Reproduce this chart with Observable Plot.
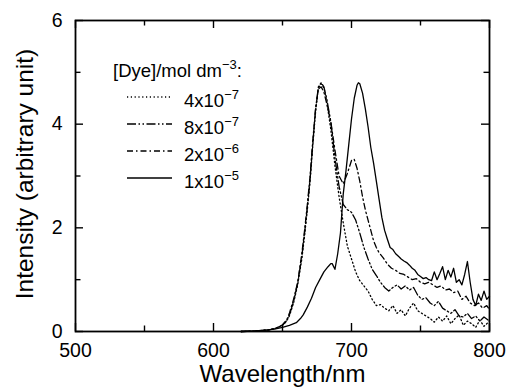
<!DOCTYPE html>
<html><head><meta charset="utf-8">
<script src="https://cdn.jsdelivr.net/npm/d3@7"></script>
<script src="https://cdn.jsdelivr.net/npm/@observablehq/plot@0.6"></script>
<style>
body{margin:0;background:#fff;}
#wrap{position:relative;width:510px;height:387px;overflow:hidden;}
#wrap svg{position:absolute;left:0;top:0;}
</style></head><body><div id="wrap"></div>
<script>
// ---- data ----
const seriesBase = ["4x10", "8x10", "2x10", "1x10"];
const seriesExp = ["\u22127", "\u22127", "\u22126", "\u22125"];
const legendTitle = "[Dye]/mol dm";
const legendTitleExp = "\u22123";
const xTitle = "Wavelength/nm";
const yTitle = "Intensity (arbitrary unit)";
const xTicks = [500, 600, 700, 800];
const xMinor = [550, 650, 750];
const yTicks = [0, 2, 4, 6];
const yMinor = [1, 3, 5];

const wlA = [620,630,640,645,650,653,655,658,661,664,666,668,670,672,674,676,678,680,682,685,688,691,694,697,700,703,706,709,712,715,718,721,724,727,730,733,736,739,742,745,748,751,754,757,760,763,766,769,772,775,778,781,784,787,790,793,796,800];
const intA = [0,0.01,0.03,0.06,0.12,0.2,0.3,0.55,0.9,1.4,1.85,2.35,2.9,3.6,4.25,4.7,4.78,4.7,4.45,3.9,3.2,2.6,2.1,1.65,1.4,1.15,0.98,0.88,0.78,0.62,0.5,0.52,0.45,0.4,0.5,0.35,0.42,0.3,0.45,0.55,0.4,0.35,0.3,0.25,0.18,0.28,0.2,0.3,0.15,0.25,0.32,0.12,0.2,0.15,0.08,0.22,0.1,0.2];

const wlB = [620,630,640,645,650,653,655,658,661,664,666,668,670,672,674,676,678,680,682,685,688,691,694,697,700,703,706,709,712,715,718,721,724,727,730,733,736,739,742,745,748,751,754,757,760,763,766,769,772,775,778,781,784,787,790,793,796,800];
const intB = [0,0.01,0.03,0.06,0.12,0.21,0.32,0.58,0.93,1.45,1.9,2.4,2.95,3.65,4.3,4.72,4.8,4.72,4.5,4.05,3.35,2.8,2.45,2.35,2.3,2.15,1.9,1.62,1.4,1.2,1.08,0.95,0.85,0.78,0.85,0.9,0.82,0.88,0.8,0.85,0.7,0.62,0.65,0.55,0.5,0.58,0.45,0.4,0.35,0.42,0.3,0.28,0.35,0.25,0.3,0.2,0.28,0.2];

const wlC = [620,630,640,645,650,653,655,658,661,664,666,668,670,672,674,676,678,680,682,685,688,691,694,697,700,702,704,706,708,710,712,714,716,718,720,723,726,729,732,735,738,741,744,747,750,753,756,759,762,765,768,771,774,777,780,783,786,789,792,795,798,800];
const intC = [0,0.01,0.03,0.06,0.13,0.22,0.35,0.62,0.95,1.5,1.95,2.45,3.0,3.7,4.3,4.68,4.72,4.62,4.4,4.05,3.5,3.0,2.85,3.05,3.3,3.32,3.15,2.9,2.6,2.35,2.15,1.95,1.75,1.62,1.52,1.42,1.3,1.22,1.18,1.12,1.1,1.05,1.0,1.02,0.95,0.92,0.95,0.9,0.85,0.88,0.8,0.82,0.75,0.78,0.62,0.68,0.55,0.5,0.55,0.45,0.5,0.42];

const wlD = [620,630,640,645,650,655,660,663,665,668,671,674,677,680,683,685,686,688,690,692,694,696,698,700,702,704,705,706,708,710,712,714,716,718,720,722,724,726,728,730,732,734,736,738,740,742,744,746,748,750,752,754,756,758,760,762,764,766,768,770,772,774,776,778,780,782,784,786,788,790,792,794,796,798,800];
const intD = [0,0.01,0.03,0.05,0.08,0.12,0.17,0.25,0.32,0.47,0.64,0.85,1.0,1.15,1.25,1.31,1.31,1.2,1.5,1.9,2.65,3.1,3.6,4.1,4.5,4.75,4.8,4.78,4.6,4.3,3.95,3.55,3.25,2.9,2.55,2.2,1.95,1.78,1.62,1.58,1.5,1.45,1.4,1.36,1.33,1.28,1.22,1.18,1.1,1.06,1.02,1.04,1.0,0.98,1.15,1.0,1.12,1.25,1.0,1.18,1.05,1.22,0.95,1.0,0.9,1.1,1.35,0.95,0.62,0.5,0.72,0.6,0.78,0.62,0.68];

// ---- styles (separate from data) ----
const dashes = ["1.2,2.6", "9,2.5,1.5,2.5,1.5,2.5", "6,3,1.5,3", "none"];
const FONT = "'Liberation Sans', Arial, Helvetica, sans-serif";
const W = 510, H = 387, ML = 75, MR = 21, MT = 20, MB = 56;
const FW = W - ML - MR, FH = H - MT - MB;
const MAJ = 8, MIN = 5.5;

const series = [[wlA,intA],[wlB,intB],[wlC,intC],[wlD,intD]];
const rows = series.map(([w,v]) => w.map((x,i) => ({w:x, v:v[i]})));

const plot = Plot.plot({
  width: W, height: H,
  marginLeft: ML, marginRight: MR, marginTop: MT, marginBottom: MB,
  x: {domain: [500, 800]},
  y: {domain: [0, 6]},
  style: {fontFamily: FONT, background: "white", color: "black", overflow: "visible"},
  marks: [
    ...rows.map((r, i) => Plot.line(r, {x: "w", y: "v", stroke: "black", strokeWidth: 1.3, strokeDasharray: dashes[i]})),
    // inward ticks on all four sides
    Plot.tickX(xTicks, {x: d => d, insetTop: FH - MAJ, strokeWidth: 1.4}),
    Plot.tickX(xMinor, {x: d => d, insetTop: FH - MIN, strokeWidth: 1.4}),
    Plot.tickX(xTicks, {x: d => d, insetBottom: FH - MAJ, strokeWidth: 1.4}),
    Plot.tickX(xMinor, {x: d => d, insetBottom: FH - MIN, strokeWidth: 1.4}),
    Plot.tickY(yTicks, {y: d => d, insetRight: FW - MAJ, strokeWidth: 1.4}),
    Plot.tickY(yMinor, {y: d => d, insetRight: FW - MIN, strokeWidth: 1.4}),
    Plot.tickY(yTicks, {y: d => d, insetLeft: FW - MAJ, strokeWidth: 1.4}),
    Plot.tickY(yMinor, {y: d => d, insetLeft: FW - MIN, strokeWidth: 1.4}),
    Plot.axisX({anchor: "bottom", ticks: xTicks, tickSize: 0, tickPadding: 12, fontSize: 19.5, tickFormat: d => String(d), label: null}),
    Plot.axisY({anchor: "left", ticks: yTicks, tickSize: 0, tickPadding: 13, fontSize: 19.5, tickFormat: d => String(d), label: null}),
    Plot.text([xTitle], {text: d => d, frameAnchor: "bottom", dy: 43, fontSize: 24, lineAnchor: "middle", textAnchor: "middle"}),
    Plot.text([yTitle], {text: d => d, frameAnchor: "left", rotate: -90, dx: -50, dy: -2, fontSize: 24.5, lineAnchor: "middle", textAnchor: "middle"}),
    Plot.frame({stroke: "black", strokeWidth: 1.8})
  ]
});
document.getElementById("wrap").appendChild(plot);

// ---- legend overlay ----
const lg = d3.select("#wrap").append("svg")
  .attr("width", W).attr("height", H)
  .style("font-family", FONT).style("pointer-events", "none");
const head = lg.append("text").attr("x", 113).attr("y", 77).attr("font-size", 18.5).attr("fill", "black");
head.append("tspan").text(legendTitle);
head.append("tspan").attr("font-size", 13).attr("dy", -8).text(legendTitleExp);
head.append("tspan").attr("dy", 8).text(":");
seriesBase.forEach((b, i) => {
  const yl = 97 + i * 27;
  lg.append("line").attr("x1", 127).attr("x2", 172).attr("y1", yl).attr("y2", yl)
    .attr("stroke", "black").attr("stroke-width", 1.3)
    .attr("stroke-dasharray", dashes[i] === "none" ? null : dashes[i]);
  const t = lg.append("text").attr("x", 184).attr("y", yl + 10).attr("font-size", 18.5).attr("fill", "black");
  t.append("tspan").text(b);
  t.append("tspan").attr("font-size", 13).attr("dy", -8).text(seriesExp[i]);
});
</script></body></html>
